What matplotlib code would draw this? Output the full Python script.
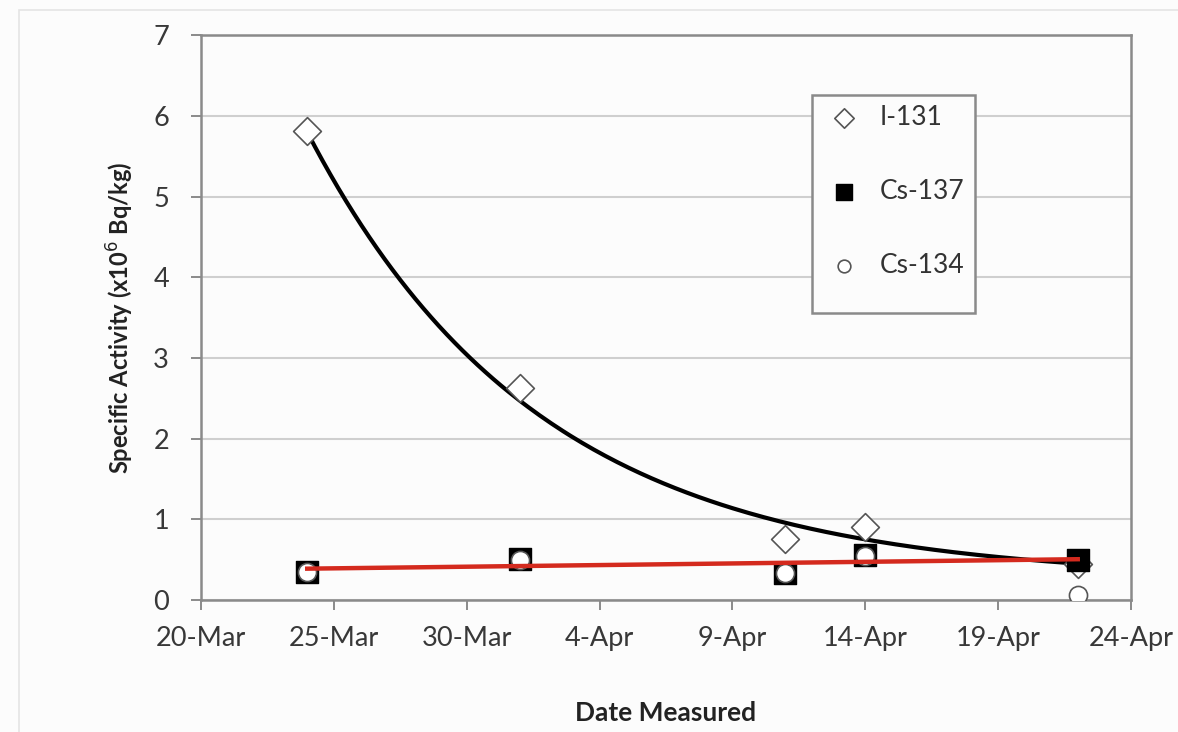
#!/usr/bin/env python3
"""
Specific activity of I-131, Cs-137 and Cs-134 against measurement date
"""

import numpy as np
import matplotlib
matplotlib.use('Agg')
import matplotlib.pyplot as plt
import matplotlib.dates as mdates
from matplotlib.patches import Rectangle

plt.rcParams['font.family'] = ['Lato', 'DejaVu Sans']

dates = np.array(['2011-03-24', '2011-04-01', '2011-04-11', '2011-04-14', '2011-04-22'],
                 dtype='datetime64[D]')
i131 = [5.81, 2.63, 0.76, 0.90, 0.45]
cs137 = [0.35, 0.51, 0.33, 0.56, 0.50]
cs134 = [0.35, 0.50, 0.33, 0.55, 0.06]

x_start = np.datetime64('2011-03-20')
x_end = np.datetime64('2011-04-24')


def decay_fit(days, values):
    """
    Exponential decay with a constant floor: y = C + A*exp(k*d).
    The floor is found by a simple scan, the rest by a log-linear fit.
    """
    values = np.asarray(values)
    best = None
    for floor in np.linspace(0, values.min() * 0.98, 200):
        k, ln_a = np.polyfit(days, np.log(values - floor), 1)
        err = np.sum((floor + np.exp(ln_a + k * days) - values) ** 2)
        if best is None or err < best[0]:
            best = (err, floor, k, ln_a)
    return best[1:]


def main():
    fig = plt.figure(figsize=(11.78, 7.32), dpi=100)
    fig.patch.set_facecolor('#fcfcfc')
    # faint outer chart-area border
    fig.add_artist(Rectangle((0.016, -0.01), 0.99, 0.997, transform=fig.transFigure,
                             fill=False, edgecolor='#e4e4e4', linewidth=1.2))

    ax = fig.add_axes([0.1706, 0.1803, 0.7894, 0.7717])
    ax.set_facecolor('#fcfcfc')

    days = (dates - x_start).astype(float)

    # trendline for I-131
    floor, k, ln_a = decay_fit(days, i131)
    d_fit = np.linspace(days[0], days[-1], 200)
    fit_dates = x_start + (d_fit * 24 * 60).astype('timedelta64[m]')
    ax.plot(fit_dates, floor + np.exp(ln_a + k * d_fit), color='black',
            linewidth=3, zorder=3)

    ax.scatter(dates, i131, marker='D', s=200, facecolor='white', edgecolor='#555555',
               linewidth=1.2, zorder=3.5, label='I-131')
    ax.scatter(dates, cs137, marker='s', s=260, facecolor='black', edgecolor='black',
               linewidth=1, zorder=4, label='Cs-137')
    ax.scatter(dates, cs134, marker='o', s=170, facecolor='white', edgecolor='#555555',
               linewidth=1.2, zorder=5, label='Cs-134')

    # linear trendline for Cs-137
    m, c = np.polyfit(days, cs137, 1)
    ax.plot(dates[[0, -1]], m * days[[0, -1]] + c, color='#d42a1e', linewidth=3.2, zorder=6)

    ax.set_xlim(x_start, x_end)
    ax.set_ylim(0, 7)
    ax.set_yticks(range(0, 8))
    ticks = [x_start + np.timedelta64(5 * i, 'D') for i in range(8)]
    ax.set_xticks(ticks)
    ax.xaxis.set_major_formatter(mdates.DateFormatter('%-d-%b'))

    ax.grid(axis='y', color='#cfcfcf', linewidth=1.5)
    ax.set_axisbelow(True)
    for side in ax.spines.values():
        side.set_color('#8a8a8a')
        side.set_linewidth(1.8)
    ax.tick_params(axis='both', direction='out', length=7, width=1.4, color='#8a8a8a',
                   labelsize=19.5, labelcolor='#383838')
    ax.tick_params(axis='x', pad=12)
    ax.tick_params(axis='y', pad=16)

    ax.set_ylabel('Specific Activity (x10$^6$ Bq/kg)', fontsize=17, fontweight='bold',
                  color='#222222', labelpad=12)
    ax.set_xlabel('Date Measured', fontsize=19, fontweight='bold', color='#222222',
                  labelpad=36)

    # legend frame taller than its entries
    ax.add_patch(Rectangle((0.657, 0.508), 0.175, 0.386, transform=ax.transAxes,
                           facecolor='#fcfcfc', edgecolor='#8a8a8a', linewidth=1.8,
                           zorder=7))
    leg = ax.legend(loc='upper left', bbox_to_anchor=(0.66, 0.89), fontsize=19,
                    labelspacing=1.85, borderpad=0.3, handletextpad=0.55, markerscale=0.7,
                    frameon=False, borderaxespad=0, handlelength=1.6)
    leg.set_zorder(8)
    for txt in leg.get_texts():
        txt.set_color('#333333')

    fig.savefig('out.png', dpi=100, facecolor=fig.get_facecolor())


if __name__ == '__main__':
    main()
